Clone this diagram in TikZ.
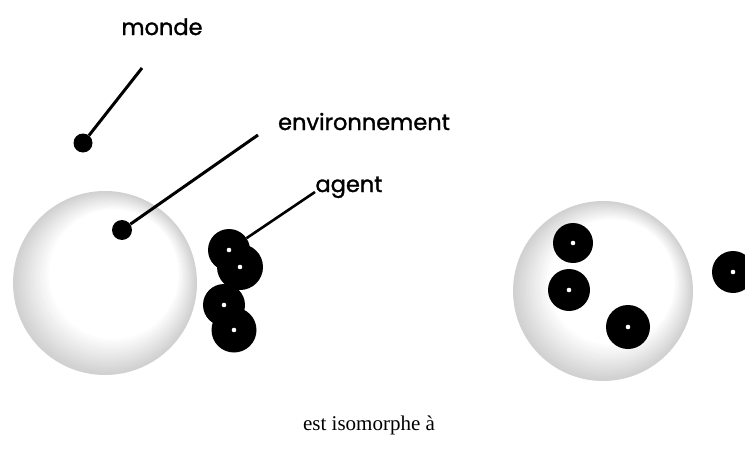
\documentclass[tikz,border=0pt]{standalone}
\usepackage{fontspec}
\setmainfont{Liberation Serif}
\newfontfamily\labelfont{Poppins}[FakeBold=1.3]
\usepackage{xcolor}
\usetikzlibrary{positioning}
\definecolor{stipplegray}{RGB}{110,110,110}

\begin{document}
\begin{tikzpicture}[x=1pt, y=-1pt,
    lbl/.style={font=\labelfont\fontsize{22.5}{25}\selectfont, inner sep=0pt, anchor=base},
    envir/.style={circle, inner sep=0pt},
    agent/.style={circle, fill=black, inner sep=0pt},
    pin/.style={circle, fill=black, inner sep=0pt},
    lead/.style={line width=3pt}]
    \useasboundingbox (0,0) rectangle (745,455);
    \clip (0,0) rectangle (745,455);
    % labels
    \node[lbl] (monde) at (162,35) {monde};
    \node[lbl] (environnement) at (364,130) {environnement};
    \node[lbl] (agentlbl) at (349,192) {agent};
    \node[font=\fontsize{21}{24}\selectfont, anchor=base] (iso) at (369,430) {est isomorphe à};
    % the two environments, stippled rim darker to the lower left
    \node[envir, minimum size=184pt] (envleft) at (105,283) {};
    \node[envir, minimum size=180pt] (envright) at (603,291) {};
    \foreach \env/\rad in {envleft/92, envright/90}
        \foreach \i in {0,...,16} {
            \pgfmathsetmacro\shadeamt{32-\i*2}
            \pgfmathsetmacro\r{\rad-\i*1.7}
            \fill[stipplegray!\shadeamt] ([shift={(\i*0.55,-\i*0.55)}]\env.center) circle (\r);
        }
    % pins and leader lines
    \node[pin, minimum size=19pt] (pinmonde) at (83,143) {};
    \node[pin, minimum size=20pt] (pinenv) at (122,230) {};
    \coordinate (mondeend) at (142,68);
    \coordinate (envend) at (258,135);
    \coordinate (agentend) at (315,192);
    \draw[lead] (mondeend) -- (pinmonde);
    \draw[lead] (envend) -- (pinenv);
    % agents, left group then right group
    \node[agent, minimum size=42pt] (a1) at (229,250) {};
    \node[agent, minimum size=46pt] (a2) at (240,267) {};
    \node[agent, minimum size=42pt] (a3) at (224,305) {};
    \node[agent, minimum size=45pt] (a4) at (234,330) {};
    \node[agent, minimum size=40pt] (b1) at (573,243) {};
    \node[agent, minimum size=42pt] (b2) at (569,290) {};
    \node[agent, minimum size=44pt] (b3) at (628,327) {};
    \node[agent, minimum size=42pt] (b4) at (733,272) {};
    \draw[lead, line width=2.6pt] (agentend) -- (a1);
    \foreach \n in {a1,a2,a3,a4,b1,b2,b3,b4}
        \fill[white] (\n.center) circle (2.3pt);
\end{tikzpicture}
\end{document}
